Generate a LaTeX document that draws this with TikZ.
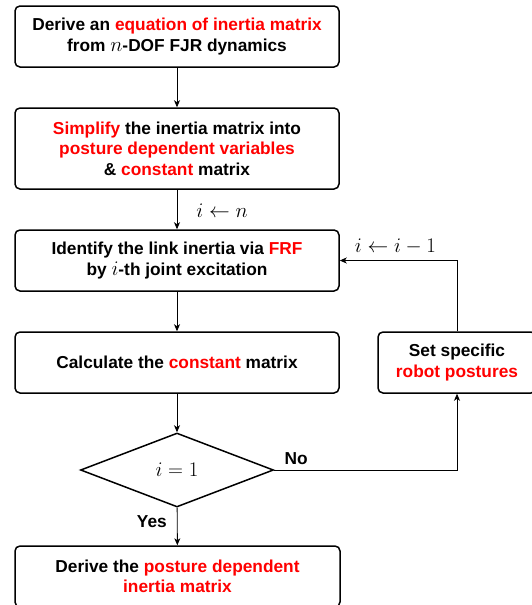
\documentclass[tikz,border=0pt]{standalone}
\usepackage{fontspec}
\setmainfont{Liberation Sans}
\usetikzlibrary{shapes.geometric,arrows.meta}
\newcommand{\hl}[1]{\textcolor{red}{#1}}
\newcommand{\mth}[1]{{\fontsize{20}{20}\selectfont$#1$}}
\begin{document}
\begin{tikzpicture}[x=1pt,y=-1pt,
  box/.style={draw, line width=1.5pt, rounded corners=5pt, minimum width=324pt,
    minimum height=61pt, align=center, inner sep=0pt,
    font=\fontsize{17.3}{20.5}\selectfont\bfseries},
  dia/.style={draw, line width=1.5pt, shape=diamond, minimum width=193pt,
    minimum height=74pt, inner sep=0pt},
  conn/.style={line width=0.9pt, -{Stealth[length=7pt,width=6pt,inset=2pt]}},
  lbl/.style={inner sep=0pt, font=\fontsize{17.3}{20.5}\selectfont\bfseries},
  mlbl/.style={inner sep=0pt, font=\fontsize{20}{24}\selectfont}]
\useasboundingbox (0,0) rectangle (532,605);
\clip (0,0) rectangle (532,605);
\node[box] (b1) at (177,36.5) {Derive an \hl{equation of inertia matrix}\\ from \mth{n}-DOF FJR dynamics};
\node[box, minimum height=81pt] (b2) at (177,148.5) {\hl{Simplify} the inertia matrix into\\ \hl{posture dependent variables}\\ \& \hl{constant} matrix};
\node[box] (b3) at (177,260.5) {Identify the link inertia via \hl{FRF}\\ by \mth{i}-th joint excitation};
\node[box] (b4) at (177,362.5) {Calculate the \hl{constant} matrix};
\node[box, minimum width=158pt] (b5) at (457,362.5) {Set specific\\ \hl{robot postures}};
\node[dia] (d) at (177,470) {\mth{i=1}};
\node[box, minimum width=325pt] (b6) at (177.5,576.5) {Derive the \hl{posture dependent}\\ \hl{inertia matrix}};
\draw[conn] (b1) -- (b2);
\draw[conn] (b2) -- node[mlbl, midway, anchor=base west, xshift=19pt, yshift=-7.5pt] {$i\leftarrow n$} (b3);
\draw[conn] (b3) -- (b4);
\draw[conn] (b4) -- (d);
\draw[conn] (d) -- node[lbl, midway, anchor=base east, xshift=-10pt, yshift=-1.5pt] {Yes} (b6);
\draw[conn] (d.east) -| node[lbl, pos=0, anchor=base west, xshift=10pt, yshift=6pt] {No} (b5.south);
\draw[conn] (b5.north) |- node[mlbl, pos=0.75, anchor=base, xshift=-3pt, yshift=8pt] {$i\leftarrow i-1$} (b3.east);
\end{tikzpicture}
\end{document}
